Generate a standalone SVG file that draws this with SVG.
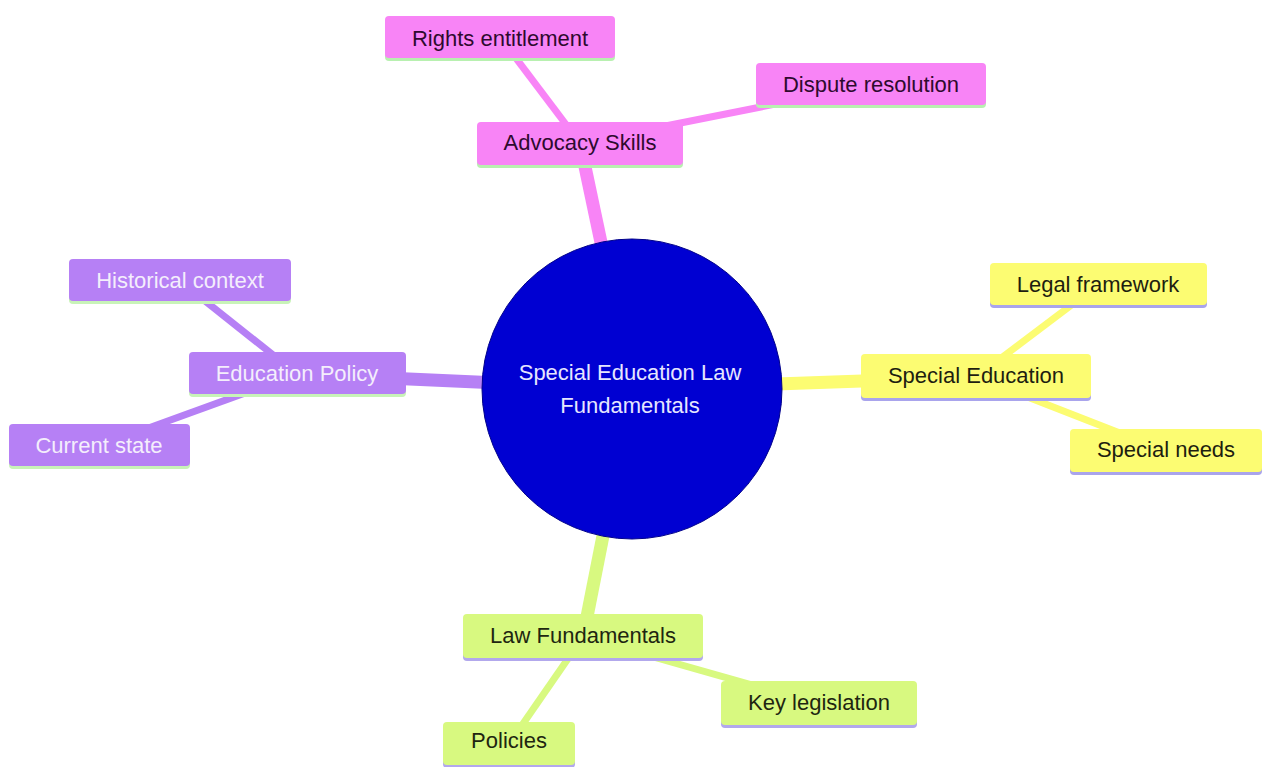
<svg xmlns="http://www.w3.org/2000/svg" width="1263" height="767" viewBox="0 0 1263 767">
<style>
text{font-family:"Liberation Sans",Arial,sans-serif;font-size:22px;text-anchor:middle}
.e1{stroke-width:13;fill:none;stroke-linecap:butt}
.e2{stroke-width:7;fill:none;stroke-linecap:butt}
.pk .b{fill:#f884f6}.pk .s{fill:#b8f0b0}.pk text{fill:#2e0a2e}
.pu .b{fill:#b680f5}.pu .s{fill:#c8f3b8}.pu text{fill:#f4eefc}
.ye .b{fill:#fcfc72}.ye .s{fill:#a9a4ec}.ye text{fill:#1e1e10}
.gr .b{fill:#d8f980}.gr .s{fill:#b2a8ec}.gr text{fill:#1e2610}
</style>
<rect width="1263" height="767" fill="#ffffff"/>
<g id="connectors">
<line class="e1" x1="632" y1="389" x2="580" y2="143" stroke="#f884f6"/>
<line class="e2" x1="580" y1="143" x2="500" y2="37" stroke="#f884f6"/>
<line class="e2" x1="580" y1="143" x2="871" y2="85" stroke="#f884f6"/>
<line class="e1" x1="632" y1="389" x2="297" y2="374" stroke="#b680f5"/>
<line class="e2" x1="297" y1="374" x2="180" y2="281" stroke="#b680f5"/>
<line class="e2" x1="297" y1="374" x2="99" y2="446" stroke="#b680f5"/>
<line class="e1" x1="632" y1="389" x2="976" y2="377" stroke="#fcfc72"/>
<line class="e2" x1="976" y1="377" x2="1098" y2="285" stroke="#fcfc72"/>
<line class="e2" x1="976" y1="377" x2="1166" y2="451" stroke="#fcfc72"/>
<line class="e1" x1="632" y1="389" x2="583" y2="637" stroke="#d8f980"/>
<line class="e2" x1="583" y1="637" x2="819" y2="704" stroke="#d8f980"/>
<line class="e2" x1="583" y1="637" x2="509" y2="744" stroke="#d8f980"/>
</g>
<g id="root">
<circle cx="632" cy="389" r="150" fill="#0000d2" stroke="#00008a" stroke-width="1"/>
<text x="630" y="380" fill="#e6e6ff">Special Education Law</text>
<text x="630" y="413" fill="#e6e6ff">Fundamentals</text>
</g>
<g id="advocacy" class="pk"><rect class="s" x="477" y="125" width="206" height="43" rx="4"/><rect class="b" x="477" y="122" width="206" height="43" rx="4"/><text x="580" y="150">Advocacy Skills</text></g>
<g id="rights" class="pk"><rect class="s" x="385" y="19" width="230" height="42" rx="4"/><rect class="b" x="385" y="16" width="230" height="42" rx="4"/><text x="500" y="46">Rights entitlement</text></g>
<g id="dispute" class="pk"><rect class="s" x="756" y="66" width="230" height="42" rx="4"/><rect class="b" x="756" y="63" width="230" height="42" rx="4"/><text x="871" y="92">Dispute resolution</text></g>
<g id="edpolicy" class="pu"><rect class="s" x="189" y="355" width="217" height="42" rx="4"/><rect class="b" x="189" y="352" width="217" height="42" rx="4"/><text x="297" y="381">Education Policy</text></g>
<g id="historical" class="pu"><rect class="s" x="69" y="262" width="222" height="42" rx="4"/><rect class="b" x="69" y="259" width="222" height="42" rx="4"/><text x="180" y="288">Historical context</text></g>
<g id="current" class="pu"><rect class="s" x="9" y="427" width="181" height="42" rx="4"/><rect class="b" x="9" y="424" width="181" height="42" rx="4"/><text x="99" y="453">Current state</text></g>
<g id="speced" class="ye"><rect class="s" x="861" y="357" width="230" height="44" rx="4"/><rect class="b" x="861" y="354" width="230" height="44" rx="4"/><text x="976" y="383">Special Education</text></g>
<g id="legal" class="ye"><rect class="s" x="990" y="266" width="217" height="42" rx="4"/><rect class="b" x="990" y="263" width="217" height="42" rx="4"/><text x="1098" y="292">Legal framework</text></g>
<g id="needs" class="ye"><rect class="s" x="1070" y="432" width="192" height="43" rx="4"/><rect class="b" x="1070" y="429" width="192" height="43" rx="4"/><text x="1166" y="457">Special needs</text></g>
<g id="lawfund" class="gr"><rect class="s" x="463" y="617" width="240" height="44" rx="4"/><rect class="b" x="463" y="614" width="240" height="44" rx="4"/><text x="583" y="643">Law Fundamentals</text></g>
<g id="keyleg" class="gr"><rect class="s" x="721" y="684" width="196" height="44" rx="4"/><rect class="b" x="721" y="681" width="196" height="44" rx="4"/><text x="819" y="710">Key legislation</text></g>
<g id="policies" class="gr"><rect class="s" x="443" y="725" width="132" height="43" rx="4"/><rect class="b" x="443" y="722" width="132" height="43" rx="4"/><text x="509" y="748">Policies</text></g>
</svg>
